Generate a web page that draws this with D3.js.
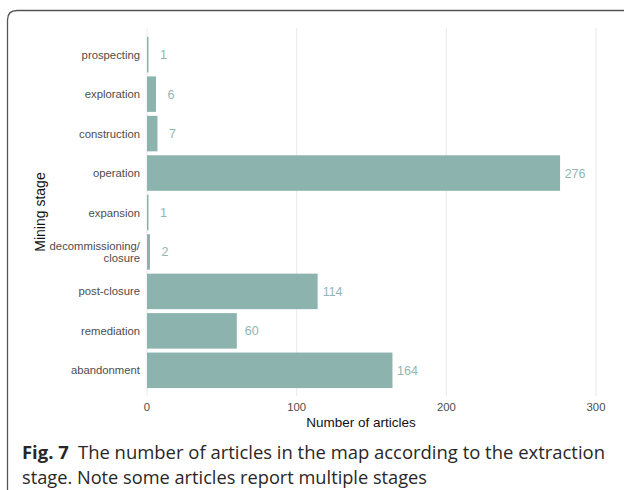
<!DOCTYPE html>
<html>
<head>
<meta charset="utf-8">
<script src="https://cdn.jsdelivr.net/npm/d3@7"></script>
<style>
  body { margin: 0; background: #fff; }
  svg { display: block; }
</style>
</head>
<body>
<div id="chart"></div>
<script>
// stages, top to bottom
const stages = [
  'prospecting', 'exploration', 'construction', 'operation', 'expansion',
  'decommissioning/\nclosure', 'post-closure', 'remediation', 'abandonment'
];
const counts = [1, 6, 7, 276, 1, 2, 114, 60, 164];
const xTicks = [0, 100, 200, 300];

const width = 624;
const height = 490;

const svg = d3.select('#chart')
  .append('svg')
  .attr('width', width)
  .attr('height', height);

// figure frame: left side + top, rounded top-left corner
svg.append('path')
  .attr('d', 'M7.5,490 L7.5,20 Q7.5,10.5 17,10.5 L624,10.5')
  .attr('fill', 'none')
  .attr('stroke', '#555')
  .attr('stroke-width', 1.3);

const x = d3.scaleLinear()
  .domain([0, 300])
  .range([147, 596]);

const y = d3.scaleBand()
  .domain(stages)
  .range([33, 392])
  .padding(0.1);

// vertical grid
svg.append('g')
  .selectAll('line')
  .data(xTicks)
  .join('line')
  .attr('x1', d => x(d))
  .attr('x2', d => x(d))
  .attr('y1', 28)
  .attr('y2', 396)
  .attr('stroke', '#ebebeb')
  .attr('stroke-width', 1.1);

// bars
svg.append('g')
  .selectAll('rect')
  .data(counts)
  .join('rect')
  .attr('x', x(0))
  .attr('y', (d, i) => y(stages[i]))
  .attr('width', d => x(d) - x(0))
  .attr('height', y.bandwidth())
  .attr('fill', '#8cb3ae');

// value labels
svg.append('g')
  .selectAll('text')
  .data(counts)
  .join('text')
  .attr('x', d => x(d) + 15)
  .attr('y', (d, i) => y(stages[i]) + y.bandwidth() / 2)
  .attr('dy', '0.36em')
  .attr('text-anchor', 'middle')
  .attr('font-family', 'Liberation Sans, Arial, sans-serif')
  .attr('font-size', 12.5)
  .attr('fill', '#8fb7b2')
  .text(d => d);

// y tick labels
const yLab = svg.append('g')
  .selectAll('text')
  .data(stages)
  .join('text')
  .attr('x', 140)
  .attr('y', d => y(d) + y.bandwidth() / 2)
  .attr('text-anchor', 'end')
  .attr('font-family', 'Liberation Sans, Arial, sans-serif')
  .attr('font-size', 11.3)
  .attr('fill', '#4d4d4d');

yLab.each(function (d) {
  const lines = d.split('\n');
  const t = d3.select(this);
  lines.forEach((l, j) => {
    t.append('tspan')
      .attr('x', 140)
      .attr('dy', j === 0 ? (0.36 - (lines.length - 1) * 0.55) + 'em' : '1.1em')
      .text(l);
  });
});

// x tick labels
svg.append('g')
  .selectAll('text')
  .data(xTicks)
  .join('text')
  .attr('x', d => x(d))
  .attr('y', 411)
  .attr('text-anchor', 'middle')
  .attr('font-family', 'Liberation Sans, Arial, sans-serif')
  .attr('font-size', 11.3)
  .attr('fill', '#4d4d4d')
  .text(d => d);

// axis titles
svg.append('text')
  .attr('x', 361)
  .attr('y', 426.5)
  .attr('text-anchor', 'middle')
  .attr('font-family', 'Liberation Sans, Arial, sans-serif')
  .attr('font-size', 13.5)
  .attr('fill', '#111')
  .text('Number of articles');

svg.append('text')
  .attr('transform', 'translate(44.5,212) rotate(-90)')
  .attr('text-anchor', 'middle')
  .attr('font-family', 'Liberation Sans, Arial, sans-serif')
  .attr('font-size', 14)
  .attr('fill', '#111')
  .text('Mining stage');

// caption
const cap1 = svg.append('text')
  .attr('x', 22)
  .attr('y', 459)
  .attr('font-family', 'Open Sans, sans-serif')
  .attr('font-size', 18.5)
  .attr('fill', '#2a2627')
  .attr('textLength', 583)
  .attr('lengthAdjust', 'spacingAndGlyphs');
cap1.append('tspan').attr('font-weight', 'bold').text('Fig. 7');
cap1.append('tspan').text('\u2002The number of articles in the map according to the extraction');

svg.append('text')
  .attr('x', 22)
  .attr('y', 483.5)
  .attr('font-family', 'Open Sans, sans-serif')
  .attr('font-size', 18.5)
  .attr('fill', '#2a2627')
  .attr('textLength', 405)
  .attr('lengthAdjust', 'spacingAndGlyphs')
  .text('stage. Note some articles report multiple stages');
</script>
</body>
</html>
